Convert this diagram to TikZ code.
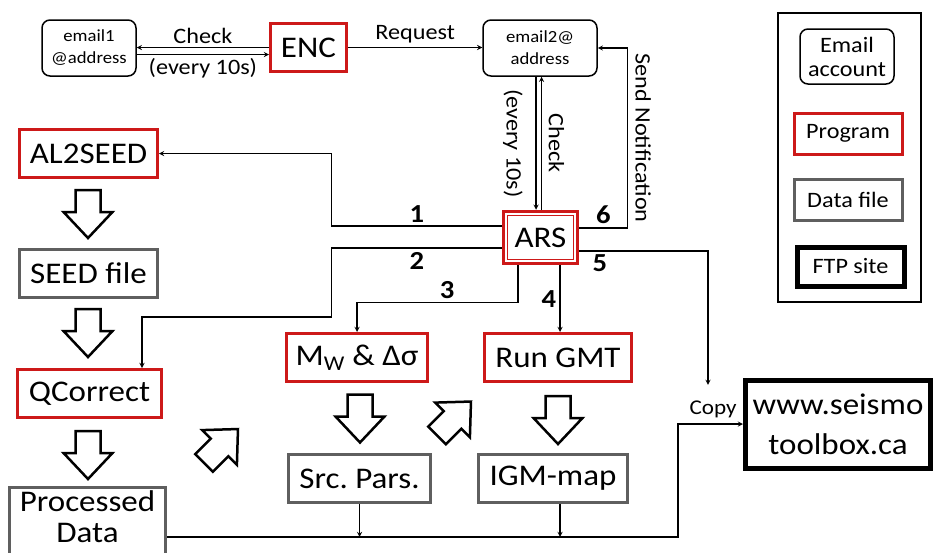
\documentclass[tikz,border=0pt]{standalone}
\usepackage{fontspec}
\setmainfont{Carlito}[FakeStretch=1.1]
\usepackage{tikz}
\usetikzlibrary{arrows, calc}
\usepackage{xcolor}
\definecolor{progred}{RGB}{205,25,25}
\definecolor{filegray}{RGB}{95,95,95}

\begin{document}
\begin{tikzpicture}[x=1pt, y=-1pt,
    account/.style={rectangle, rounded corners=8pt, draw, line width=1.5pt, align=center, inner sep=1pt, font=\fontsize{17}{22}\selectfont},
    program/.style={rectangle, draw=progred, line width=3pt, align=center, inner sep=2pt, minimum height=48pt, font=\fontsize{30}{32}\selectfont},
    datafile/.style={rectangle, draw=filegray, line width=3pt, align=center, inner sep=2pt, minimum height=48pt, font=\fontsize{30}{32}\selectfont},
    ftp/.style={rectangle, draw, line width=5pt, align=center, inner sep=2pt, font=\fontsize{30}{40}\selectfont},
    legendtext/.style={font=\fontsize{22}{24}\selectfont, minimum height=40pt},
    arrow/.style={->, >=stealth, line width=1.3pt},
    lbl/.style={font=\fontsize{22}{24}\selectfont},
    num/.style={font=\fontsize{26}{28}\selectfont\bfseries},
    hollow/.pic={\draw[line width=2.5pt, fill=white] (-12.5,-24) -- (12.5,-24) -- (12.5,-2) -- (24.5,-2) -- (0,24) -- (-24.5,-2) -- (-12.5,-2) -- cycle;}
]
\useasboundingbox (0,0) rectangle (937,552);
\clip (0,0) rectangle (937,552);

% Email accounts
\node[account, minimum width=94pt, minimum height=56pt] (email1) at (89,48) {email1\\@address};
\node[account, minimum width=114pt, minimum height=56pt] (email2) at (540,48) {email2@\\address};

% Programs
\node[program, minimum width=76pt] (ENC) at (308.5,47.5) {ENC};
\node[program, line width=3.5pt, minimum width=74pt, minimum height=52pt] (ARS) at (540.5,237.5) {ARS};
\draw[progred, line width=0.8pt] ([shift={(6,6)}]ARS.north west) rectangle ([shift={(-6,-6)}]ARS.south east);
\node[program, minimum width=138pt] (AL2SEED) at (88.5,153.5) {AL2SEED};
\node[program, minimum width=144pt] (QCorrect) at (89.5,393.5) {QCorrect};
\node[program, minimum width=141pt] (Mw) at (357,357.5) {M\textsubscript{W} \& Δσ};
\node[program, minimum width=147pt] (RunGMT) at (558,357.5) {Run GMT};

% Data files
\node[datafile, minimum width=156pt, minimum height=0pt, anchor=north, inner ysep=3pt, text depth=16pt, font=\fontsize{30}{31}\selectfont] (Processed) at (87.5,486) {Processed\\Data};
\node[datafile, minimum width=138pt] (SEED) at (88.5,273.5) {SEED file};
\node[datafile, minimum width=142pt] (SrcPars) at (359.5,478.5) {Src.\ Pars.};
\node[datafile, minimum width=149pt] (IGMmap) at (553,478.5) {IGM-map};

% FTP site
\node[ftp, minimum width=185pt, minimum height=88pt] (www) at (838,424) {www.seismo\\toolbox.ca};
\node[lbl, font=\fontsize{21}{23}\selectfont] (Copy) at (713,409) {Copy};

% Legend
\node[draw, line width=2.5pt, minimum width=143pt, minimum height=289pt] (legend) at (849.5,157.5) {};
\node[account, legendtext, minimum width=94pt, minimum height=55pt] (lgEmail) at (847,56.5) {Email\\account};
\node[program, legendtext, minimum width=108pt, minimum height=41pt] (lgProgram) at (848,133.5) {Program};
\node[datafile, legendtext, minimum width=108pt, minimum height=41pt] (lgData) at (848,200) {Data file};
\node[ftp, legendtext, minimum width=107pt, minimum height=39pt] (lgFTP) at (850.5,266.5) {FTP site};

% Checking the accounts
\draw[arrow] (ENC.west) -- (ENC.west -| email1.east) node[midway, above, lbl] {Check};
\draw[arrow] ([yshift=-6.5pt]email1.east) -- ([yshift=-6.5pt]email1.east -| ENC.west) node[midway, below, lbl] {(every 10s)};
\draw[arrow] (ENC.east) -- (ENC.east -| email2.west) node[midway, above, lbl] {Request};
\draw[arrow] ([xshift=-4pt]email2.south) -- ([xshift=-4pt]email2.south |- ARS.north) node[midway, xshift=-23pt, rotate=-90, lbl] {(every 10s)};
\draw[arrow] ([xshift=1pt]ARS.north) -- ([xshift=1pt]ARS.north |- email2.south) node[midway, xshift=15pt, rotate=-90, lbl] {Check};

% ARS steps
\draw[arrow] ([yshift=11.5pt]ARS.west) -- ++(-170,0) node[midway, above, num] {1} |- (AL2SEED.east);
\draw[arrow] ([yshift=-10.5pt]ARS.west) -- ++(-170,0) node[midway, below, num] {2} -- ++(0,69) -| ([xshift=52.5pt]QCorrect.north);
\draw[arrow] ([xshift=-22.5pt]ARS.south) -- ++(0,37) -| node[pos=0.22, above, num] {3} (Mw.north);
\draw[arrow] ([xshift=19.5pt]ARS.south) -- ([xshift=19.5pt]ARS.south |- RunGMT.north) node[midway, left, num] {4};
\draw[arrow] ([yshift=-13.5pt]ARS.east) -| node[pos=0.08, below, num] {5} ([xshift=-5pt, yshift=12pt]Copy.north);
\draw[arrow] ([yshift=9.5pt]ARS.east) -- ++(48,0) node[midway, above, num] {6} |- node[pos=0.25, xshift=16pt, rotate=-90, lbl] {Send Notification} (email2.east);

% Upload
\coordinate (procline) at (Processed.east |- 0,537);
\draw[arrow] (procline) -- ++(511,0) |- (www.west);
\draw[arrow] (SrcPars.south) -- (SrcPars.south |- procline);
\draw[arrow] ([xshift=7pt]IGMmap.south) -- ([xshift=7pt]IGMmap.south |- procline);

% Flow arrows
\pic at (88,214) {hollow};
\pic at (88,333) {hollow};
\pic at (88,455) {hollow};
\pic at (360,418.5) {hollow};
\pic at (558,420) {hollow};
\pic[rotate=135] at (221,446) {hollow};
\pic[rotate=135] at (454,418.5) {hollow};

\end{tikzpicture}
\end{document}
